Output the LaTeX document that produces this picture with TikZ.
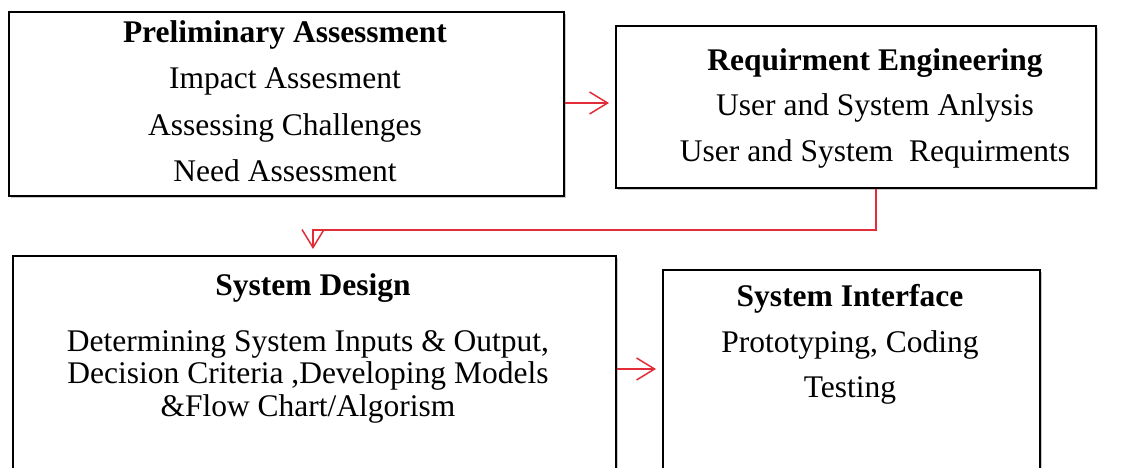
\documentclass[tikz,border=0pt]{standalone}
\usepackage{fontspec}
\setmainfont{Liberation Serif}
\usetikzlibrary{arrows.meta,shadows}

\definecolor{flowred}{RGB}{226,44,56}

\tikzset{
  stagebox/.style={draw=black, line width=1.8pt, fill=white, rectangle,
    inner sep=0pt, anchor=north west,
    drop shadow={shadow xshift=2.5pt, shadow yshift=-2.5pt, opacity=0.35, fill=black!60}},
  txt/.style={anchor=base, inner sep=0pt, font=\fontsize{31.5}{32}\selectfont},
  hd/.style={txt, font=\fontsize{31.5}{32}\selectfont\bfseries},
  flow/.style={draw=flowred, line width=1.5pt,
    -{Straight Barb[length=18pt, width=22pt, line width=1.5pt]}}
}

\begin{document}
\begin{tikzpicture}[x=1pt, y=-1pt]
  \useasboundingbox (0,0) rectangle (1125,468);

  % stage boxes
  \node[stagebox, minimum width=555pt, minimum height=184pt] (pa) at (8,11) {};
  \node[stagebox, minimum width=480pt, minimum height=162pt] (re) at (615,25) {};
  \node[stagebox, minimum width=603pt, minimum height=260pt] (sd) at (12,255) {};
  \node[stagebox, minimum width=377pt, minimum height=250pt] (si) at (662,269) {};

  % Preliminary Assessment
  \node[hd]  (pa1) at (285,43)  {Preliminary Assessment};
  \node[txt] (pa2) at (285,89)  {Impact Assesment};
  \node[txt] (pa3) at (285,136) {Assessing Challenges};
  \node[txt] (pa4) at (285,182) {Need Assessment};

  % Requirment Engineering
  \node[hd]  (re1) at (875,71)  {Requirment Engineering};
  \node[txt] (re2) at (875,116) {User and System Anlysis};
  \node[txt] (re3) at (875,162) {User and System\ \ Requirments};

  % System Design
  \node[hd]  (sd1) at (313,295) {System Design};
  \node[txt] (sd2) at (308,351) {Determining System Inputs \& Output,};
  \node[txt] (sd3) at (308,383) {Decision Criteria ,Developing Models};
  \node[txt] (sd4) at (308,416) {\&Flow Chart/Algorism};

  % System Interface
  \node[hd]  (si1) at (850,306) {System Interface};
  \node[txt] (si2) at (850,352) {Prototyping, Coding};
  \node[txt] (si3) at (850,397) {Testing};

  % connectors
  \coordinate (a1) at (pa.east |- 0,103);
  \coordinate (b1) at (re.west |- 0,103);
  \draw[flow, shorten >=6pt] (a1) -- (b1);

  \coordinate (a2) at (876,0);
  \coordinate (b2) at (313,0);
  \draw[flow, shorten >=6pt] (a2 |- re.south) -- (a2 |- 0,230) -- (b2 |- 0,230) -- (b2 |- sd.north);

  \coordinate (a3) at (sd.east |- 0,369);
  \coordinate (b3) at (si.west |- 0,369);
  \draw[flow, shorten >=6pt] (a3) -- (b3);
\end{tikzpicture}
\end{document}
